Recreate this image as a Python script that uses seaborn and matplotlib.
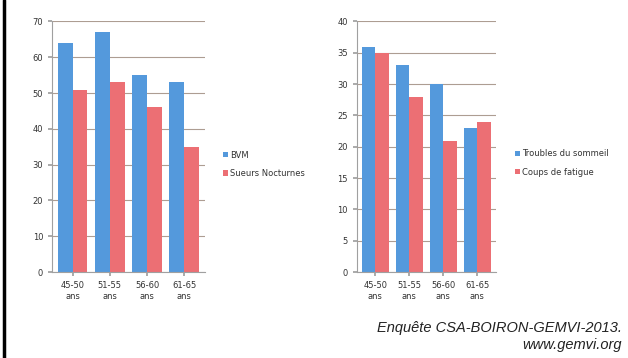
import matplotlib
matplotlib.use("Agg")
import matplotlib.pyplot as plt
import seaborn as sns
import pandas as pd

categories = ["45-50\nans", "51-55\nans", "56-60\nans", "61-65\nans"]
bvm = [64, 67, 55, 53]
sueurs = [51, 53, 46, 35]
troubles = [36, 33, 30, 23]
coups = [35, 28, 21, 24]

left_names = ["BVM", "Sueurs Nocturnes"]
right_names = ["Troubles du sommeil", "Coups de fatigue"]

blue = "#5499dc"
red = "#ec6f74"

sns.set_theme(style="white")
plt.rcParams['font.family'] = ['DejaVu Sans']

fig = plt.figure(figsize=(6.28, 3.58), dpi=100)
fig.patch.set_facecolor("white")

def make_df(a, b, names):
    rows = []
    for c, v in zip(categories, a):
        rows.append({"cat": c, "val": v, "serie": names[0]})
    for c, v in zip(categories, b):
        rows.append({"cat": c, "val": v, "serie": names[1]})
    return pd.DataFrame(rows)

def draw(ax, df, names, ymax, step, legend_pos):
    sns.barplot(data=df, x="cat", y="val", hue="serie", hue_order=names,
                palette=[blue, red], ax=ax, width=0.8, saturation=1,
                edgecolor="none", legend=True)
    ax.set_ylim(0, ymax)
    ax.set_yticks(range(0, ymax + 1, step))
    ax.yaxis.grid(True, color="#ad9d92", linewidth=0.8)
    ax.set_axisbelow(True)
    ax.set_xlabel("")
    ax.set_ylabel("")
    for s in ["top", "right"]:
        ax.spines[s].set_visible(False)
    ax.spines["left"].set_color("#a0a0a0")
    ax.spines["bottom"].set_color("#a0a0a0")
    ax.spines["left"].set_linewidth(0.8)
    ax.spines["bottom"].set_linewidth(0.8)
    ax.tick_params(axis="both", labelsize=6, colors="#333333", length=3,
                   direction="out", left=True, bottom=True)
    ax.tick_params(axis="both", color="#a0a0a0")
    ax.set_xlim(-0.55, 3.55)
    leg = ax.legend(loc="center left", bbox_to_anchor=legend_pos, frameon=False,
                    fontsize=6, handlelength=0.6, handleheight=0.6,
                    handletextpad=0.3, labelspacing=1.1)
    for t in leg.get_texts():
        t.set_color("#333333")

ax1 = fig.add_axes([0.083, 0.24, 0.243, 0.70])
draw(ax1, make_df(bvm, sueurs, left_names), left_names, 70, 10, (1.07, 0.43))

ax2 = fig.add_axes([0.568, 0.24, 0.222, 0.70])
draw(ax2, make_df(troubles, coups, right_names), right_names, 40, 5, (1.08, 0.435))

fig.text(0.99, 0.085, "Enquête CSA-BOIRON-GEMVI-2013.", ha="right", va="center",
         fontsize=10.5, style="italic", color="#222222", family="Liberation Sans")
fig.text(0.99, 0.035, "www.gemvi.org", ha="right", va="center",
         fontsize=10.5, style="italic", color="#222222", family="Liberation Sans")

# left border line
fig.add_artist(plt.Line2D([0.007, 0.007], [0, 1], color="black", linewidth=2.5,
                          transform=fig.transFigure))

fig.savefig("out.png", dpi=100, facecolor="white")
